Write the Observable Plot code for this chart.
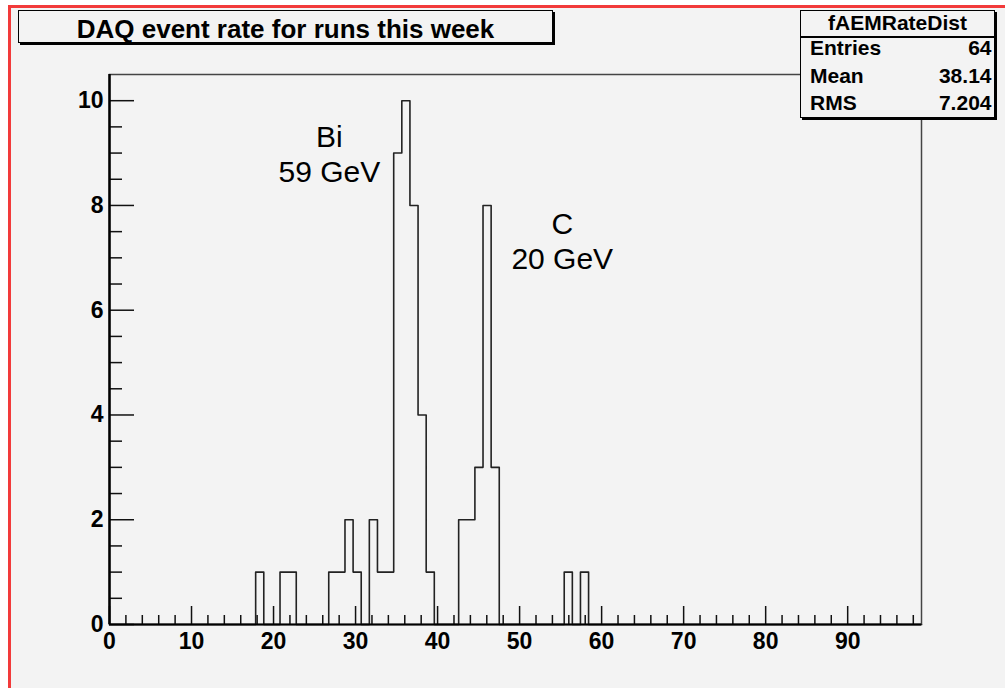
<!DOCTYPE html>
<html><head><meta charset="utf-8">
<script src="https://cdn.jsdelivr.net/npm/d3@7"></script>
<script src="https://cdn.jsdelivr.net/npm/@observablehq/plot@0.6"></script>
<style>
html,body{margin:0;padding:0;background:#fff;}
#page{position:relative;width:1005px;height:688px;overflow:hidden;font-family:"Liberation Sans",Arial,Helvetica,sans-serif;color:#000;}
#panel{position:absolute;left:8px;top:5px;right:0;bottom:0;background:#f3f3f3;border-left:3px solid #f23a3a;border-top:3px solid #f23a3a;}
#chart{position:absolute;left:0;top:0;}
.box{position:absolute;border:1.5px solid #000;background:#f3f3f3;box-shadow:2px 2px 0 #000;box-sizing:border-box;z-index:2;}
.t{position:absolute;font-weight:bold;line-height:1;white-space:nowrap;z-index:3;}
.sep{position:absolute;background:#000;z-index:3;}
</style></head>
<body>
<div id="page">
  <div id="panel"></div>
  <div id="chart"></div>
  <div class="box" style="left:18px;top:10px;width:535px;height:33px;"></div>
  <div class="t" id="title" style="left:18px;width:535px;top:15.5px;font-size:26px;text-align:center;"></div>
  <div class="box" style="left:800px;top:10px;width:195px;height:108px;"></div>
  <div class="sep" style="left:800px;top:36px;width:195px;height:1.5px;"></div>
  <div class="t" id="statsName" style="left:800px;width:195px;top:12.2px;font-size:21px;text-align:center;"></div>
  <div id="statsRows"></div>
</div>
<script>
// ---- data ----
const titleText = "DAQ event rate for runs this week";
const histName = "fAEMRateDist";
const nBins = 100, xMin = 0, xMax = 99;
const filledBins = [18, 21, 22, 27, 28, 29, 30, 32, 33, 34, 35, 36, 37, 38, 39, 43, 44, 45, 46, 47, 56, 58];
const binCounts  = [ 1,  1,  1,  1,  1,  2,  1,  2,  1,  1,  9, 10,  8,  4,  1,  2,  2,  3,  8,  3,  1,  1];
const xTickLabels = [0, 10, 20, 30, 40, 50, 60, 70, 80, 90];
const yTickLabels = [0, 2, 4, 6, 8, 10];
const statsLabels = ["Entries", "Mean", "RMS"];
const statsValues = ["64", "38.14", "7.204"];
const annotationText = ["Bi\n59 GeV", "C\n20 GeV"];
const annotationX = [26.8, 55.2];
const annotationY = [9.0, 7.33];

// ---- build histogram outline ----
const counts = new Array(nBins).fill(0);
filledBins.forEach((b, i) => counts[b] = binCounts[i]);
const bw = (xMax - xMin) / nBins;
const outline = [{x: xMin, y: 0}];
counts.forEach((c, k) => outline.push({x: xMin + k * bw, y: c}));
outline.push({x: xMax, y: counts[nBins - 1]});
outline.push({x: xMax, y: 0});

const xMinor = d3.range(2, 99, 2).filter(v => v % 10 !== 0);
const yMinor = d3.range(0.5, 10.5, 0.5).filter(v => v % 2 !== 0);
const annotations = annotationText.map((t, i) => ({t, x: annotationX[i], y: annotationY[i]}));

const W = 1005, H = 688, mL = 109, mR = 84, mT = 74, mB = 64;
const fw = W - mL - mR, fh = H - mT - mB;

const chart = Plot.plot({
  width: W, height: H,
  marginLeft: mL, marginRight: mR, marginTop: mT, marginBottom: mB,
  style: {background: "transparent", fontFamily: "Liberation Sans, Arial, sans-serif", overflow: "visible"},
  x: {domain: [xMin, xMax]},
  y: {domain: [0, 10.5]},
  marks: [
    Plot.frame({stroke: "#444", strokeWidth: 1.5}),
    Plot.line(outline, {x: "x", y: "y", curve: "step-after", stroke: "#222", strokeWidth: 1.6}),
    Plot.ruleX(xTickLabels, {x: d => d, insetTop: fh - 18, stroke: "#111", strokeWidth: 1.5}),
    Plot.ruleX(xMinor, {x: d => d, insetTop: fh - 9, stroke: "#111", strokeWidth: 1.5}),
    Plot.ruleY(yTickLabels, {y: d => d, insetRight: fw - 25, stroke: "#111", strokeWidth: 1.5}),
    Plot.ruleY(yMinor, {y: d => d, insetRight: fw - 13, stroke: "#111", strokeWidth: 1.5}),
    Plot.ruleY([0], {stroke: "#000", strokeWidth: 2.2}),
    Plot.ruleX([0], {stroke: "#000", strokeWidth: 2.5}),
    Plot.axisX(xTickLabels, {tickSize: 0, tickPadding: 8, fontSize: 23, fontWeight: "bold", fill: "#000", label: null, tickFormat: d => String(d)}),
    Plot.axisY(yTickLabels, {tickSize: 0, tickPadding: 6, fontSize: 23, fontWeight: "bold", fill: "#000", label: null, tickFormat: d => String(d)}),
    Plot.text(annotations, {x: "x", y: "y", text: "t", fontSize: 30, lineHeight: 35 / 30, textAnchor: "middle", lineAnchor: "middle", fill: "#000"})
  ]
});
document.getElementById("chart").appendChild(chart);

document.getElementById("title").textContent = titleText;
document.getElementById("statsName").textContent = histName;
const rowsTop = [37.2, 65.2, 92.2];
const rows = document.getElementById("statsRows");
statsLabels.forEach((lab, i) => {
  const a = document.createElement("div");
  a.className = "t"; a.textContent = lab;
  a.style.cssText = `left:810px;top:${rowsTop[i]}px;font-size:21px;`;
  const b = document.createElement("div");
  b.className = "t"; b.textContent = statsValues[i];
  b.style.cssText = `right:${1005 - 991.5}px;top:${rowsTop[i]}px;font-size:21px;text-align:right;`;
  rows.appendChild(a); rows.appendChild(b);
});
</script>
</body></html>
